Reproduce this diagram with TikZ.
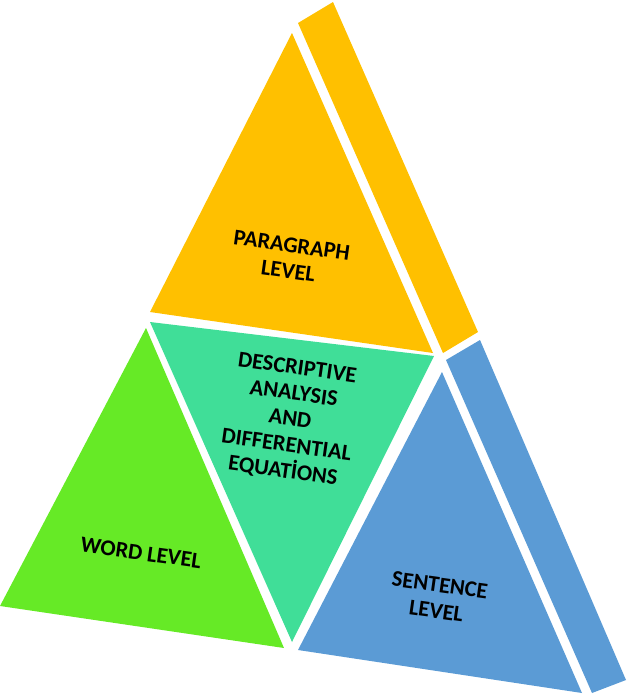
\documentclass[tikz,border=0pt]{standalone}
\usepackage{fontspec}
\setmainfont{Carlito}
\begin{document}
\begin{tikzpicture}[x=1pt,y=-1pt,
  lbl/.style={font=\bfseries\fontsize{22.5}{26}\selectfont, align=center, text=black, rotate=-8, inner sep=0pt}]
\useasboundingbox (0,0) rectangle (628,694);
\definecolor{orangec}{RGB}{255,192,0}
\definecolor{greenc}{RGB}{102,234,38}
\definecolor{tealc}{RGB}{64,222,152}
\definecolor{bluec}{RGB}{91,155,213}
% orange side and front
\fill[orangec] (298,23) -- (333,2) -- (478,332) -- (443,353) -- cycle;
\fill[orangec] (292,33) -- (150,312) -- (433,353) -- cycle;
% teal
\fill[tealc] (150,322) -- (434,356) -- (292,642) -- cycle;
% green
\fill[greenc] (146,328) -- (284,648) -- (0,606) -- cycle;
% blue side and front
\fill[bluec] (446,360) -- (480,340) -- (626,680) -- (592,693) -- cycle;
\fill[bluec] (442,372) -- (582,693) -- (298,650) -- cycle;
% labels
\node[lbl] (para) at (290,258) {PARAGRAPH\\LEVEL};
\node[lbl] (desc) at (290,420) {DESCRIPTIVE\\ANALYSIS\\AND\\DIFFERENTIAL\\EQUATİONS};
\node[lbl] (word) at (141,553) {WORD LEVEL};
\node[lbl] (sent) at (438,598) {SENTENCE\\LEVEL};
\end{tikzpicture}
\end{document}
